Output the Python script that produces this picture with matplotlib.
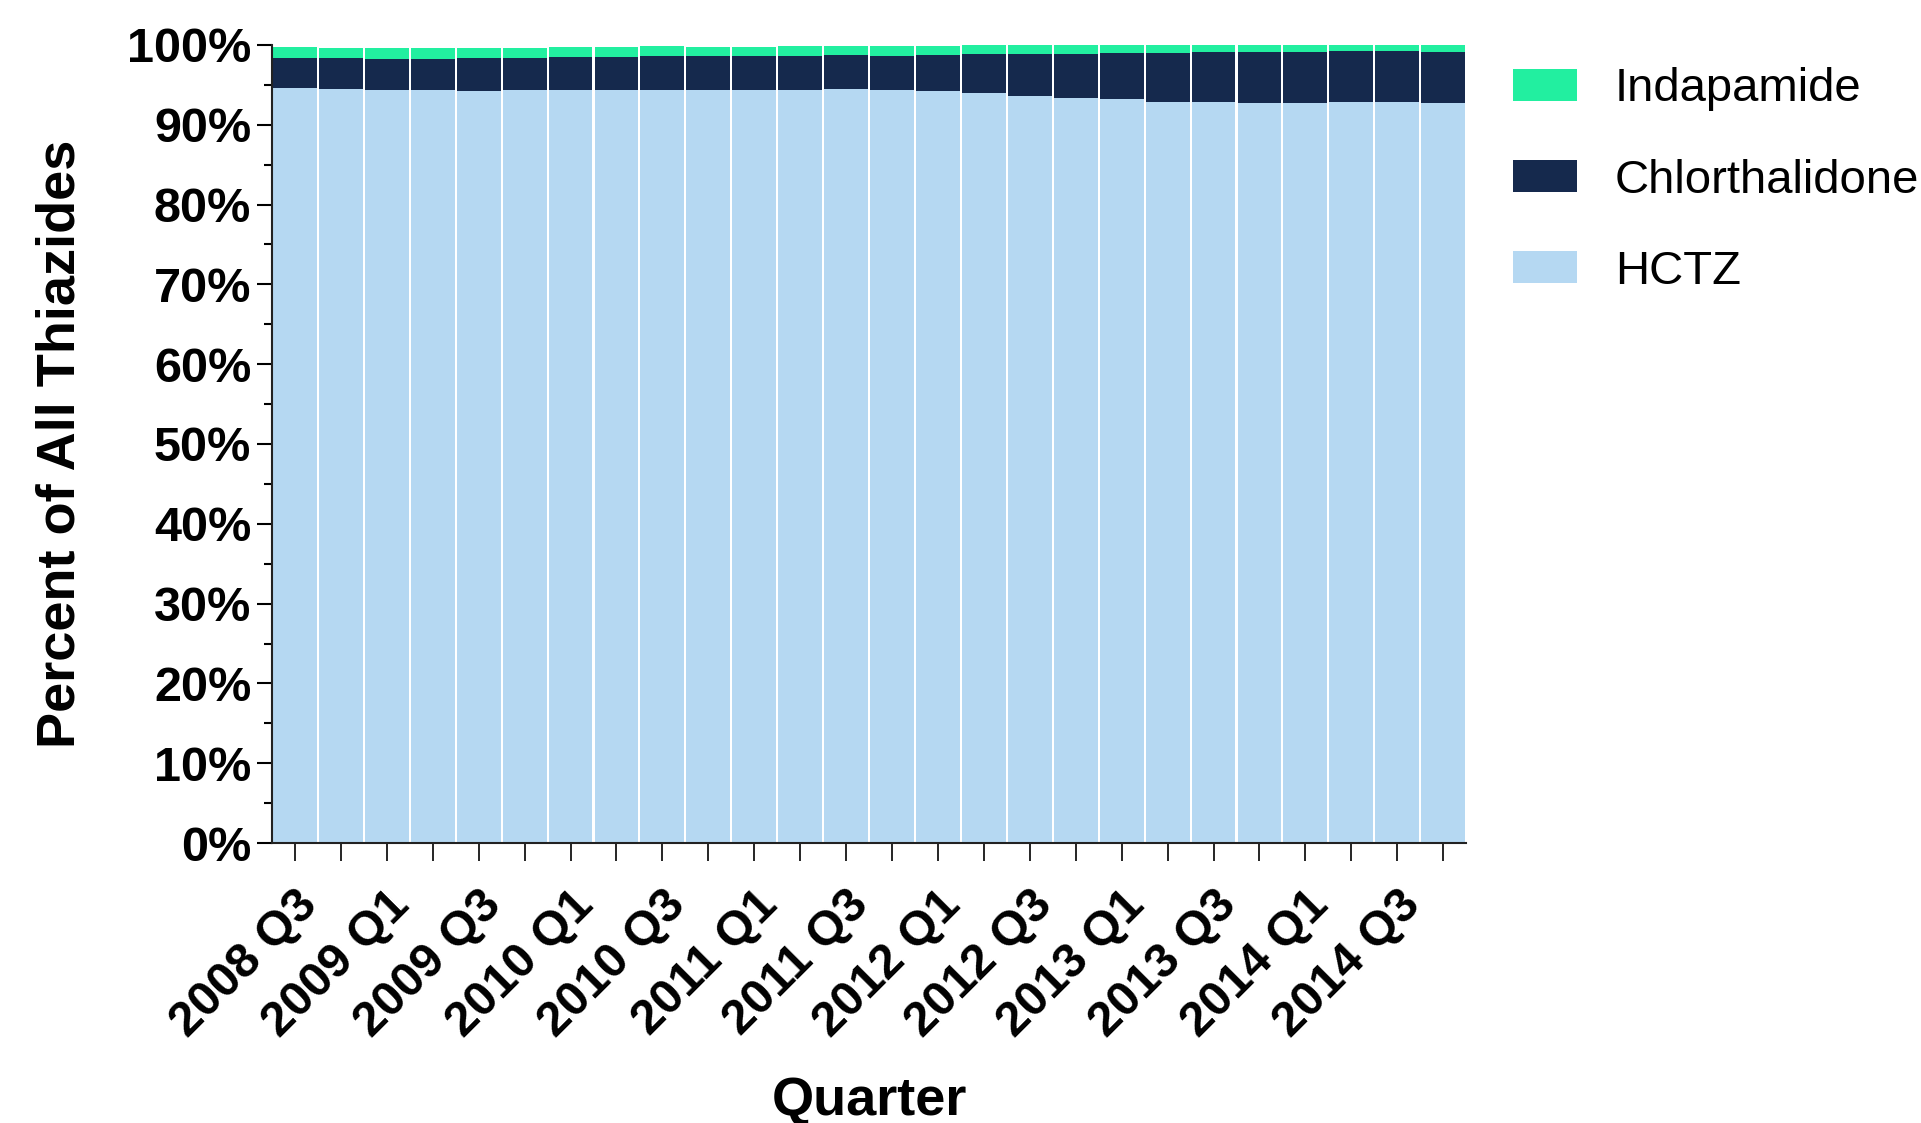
import numpy as np
import matplotlib
matplotlib.use('Agg')
from matplotlib import pyplot as plt
from matplotlib.ticker import MultipleLocator, FuncFormatter

plt.rcParams['font.family'] = ['Liberation Sans', 'DejaVu Sans']

# quarters 2008 Q3 .. 2014 Q4
quarters = ['2008 Q3', '2008 Q4', '2009 Q1', '2009 Q2', '2009 Q3', '2009 Q4',
            '2010 Q1', '2010 Q2', '2010 Q3', '2010 Q4', '2011 Q1', '2011 Q2',
            '2011 Q3', '2011 Q4', '2012 Q1', '2012 Q2', '2012 Q3', '2012 Q4',
            '2013 Q1', '2013 Q2', '2013 Q3', '2013 Q4', '2014 Q1', '2014 Q2',
            '2014 Q3', '2014 Q4']

# percent of all thiazides
hctz = [94.6, 94.5, 94.38, 94.29, 94.25, 94.38, 94.38, 94.38, 94.38, 94.38,
        94.29, 94.38, 94.5, 94.29, 94.17, 93.92, 93.58, 93.3, 93.17, 92.83,
        92.83, 92.75, 92.75, 92.83, 92.83, 92.71]
chlorthalidone = [3.7, 3.83, 3.91, 4.0, 4.08, 4.04, 4.08, 4.16, 4.25, 4.25,
                  4.38, 4.29, 4.29, 4.38, 4.62, 5.0, 5.34, 5.6, 5.79, 6.13,
                  6.25, 6.33, 6.33, 6.38, 6.38, 6.37]
indapamide = [1.38, 1.3, 1.34, 1.29, 1.3, 1.21, 1.33, 1.25, 1.2, 1.16,
              1.12, 1.16, 1.04, 1.16, 1.13, 1.04, 1.04, 1.06, 1.0, 1.0,
              0.88, 0.88, 0.88, 0.75, 0.75, 0.88]

c_hctz = '#b5d8f2'
c_chlor = '#15294d'
c_inda = '#22efa0'

fig = plt.figure(figsize=(19.21, 11.23), dpi=100)
ax = fig.add_axes([0.1416, 0.2493, 0.6216, 0.7107])

x = np.arange(len(quarters))
hctz = np.array(hctz)
chlor = np.array(chlorthalidone)
inda = np.array(indapamide)

w = 0.955
b1 = ax.bar(x, hctz, w, color=c_hctz, label='HCTZ')
b2 = ax.bar(x, chlor, w, bottom=hctz, color=c_chlor, label='Chlorthalidone')
b3 = ax.bar(x, inda, w, bottom=hctz + chlor, color=c_inda, label='Indapamide')

ax.set_xlim(-0.5, len(quarters) - 0.5)
ax.set_ylim(0, 100)

ax.yaxis.set_major_locator(MultipleLocator(10))
ax.yaxis.set_minor_locator(MultipleLocator(5))
ax.yaxis.set_major_formatter(FuncFormatter(lambda v, p: '%d%%' % v))

ax.set_xticks(x)
labels = [q if i % 2 == 0 else '' for i, q in enumerate(quarters)]
ax.set_xticklabels(labels, rotation=45, ha='right', rotation_mode='anchor')

for s in ['top', 'right']:
    ax.spines[s].set_visible(False)
for s in ['left', 'bottom']:
    ax.spines[s].set_linewidth(1.5)
    ax.spines[s].set_color('#222222')

ax.tick_params(axis='y', which='major', length=11, width=1.5, labelsize=35, pad=4)
ax.tick_params(axis='y', which='minor', length=6, width=1.5)
ax.tick_params(axis='x', which='major', length=13, width=1.2, labelsize=35, pad=15)
for t in ax.get_xticklabels() + ax.get_yticklabels():
    t.set_fontweight('bold')

ax.set_ylabel('Percent of All Thiazides', fontsize=39, fontweight='bold', labelpad=30)
ax.set_xlabel('Quarter', fontsize=39, fontweight='bold', labelpad=22)

leg = fig.legend([b3, b2, b1], ['Indapamide', 'Chlorthalidone', 'HCTZ'],
                 loc='upper left', bbox_to_anchor=(0.7876, 0.940),
                 frameon=False, fontsize=34, borderpad=0, borderaxespad=0,
                 handlelength=1.36, handleheight=0.68, handletextpad=0.8,
                 labelspacing=1.0)

fig.savefig('out.png', dpi=100)
